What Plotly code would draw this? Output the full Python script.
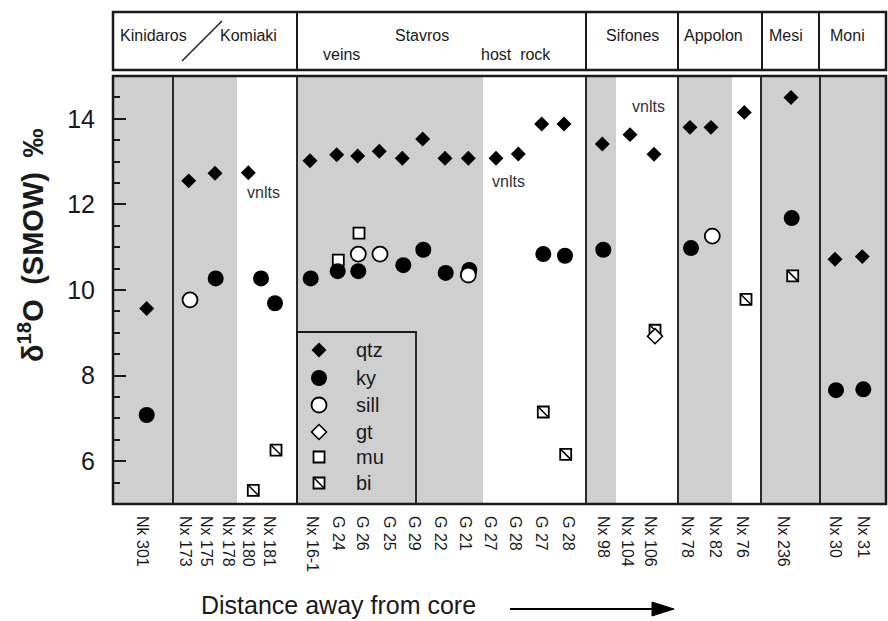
import plotly.graph_objects as go

# ---------------- data ----------------
# positions along the "distance away from core" axis (arbitrary units)
tick_pos = [28.7, 72, 93, 114.7, 135.3, 156.3, 198.7, 225.3, 248.7, 276.3, 301, 327,
            352, 377, 402, 427.7, 455.3, 490, 514, 537, 574, 602, 629, 670, 722, 750]
tick_text = ["Nk 301", "Nx 173", "Nx 175", "Nx 178", "Nx 180", "Nx 181", "Nx 16-1",
             "G 24", "G 26", "G 25", "G 29", "G 22", "G 21", "G 27", "G 28", "G 27",
             "G 28", "Nx 98", "Nx 104", "Nx 106", "Nx 78", "Nx 82", "Nx 76", "Nx 236",
             "Nx 30", "Nx 31"]

qtz_x = [33.7, 75.7, 102.0, 135.3, 197.0, 223.7, 244.7, 266.3, 289.3, 309.7, 332.0, 355.3,
         383.0, 405.3, 428.7, 451.0, 489.3, 517.0, 541.0, 577.0, 598.0, 631.3, 678.0, 722.0, 749.3]
qtz_y = [9.57, 12.55, 12.73, 12.74, 13.02, 13.16, 13.13, 13.24, 13.08, 13.53, 13.08, 13.08,
         13.08, 13.18, 13.88, 13.88, 13.41, 13.63, 13.17, 13.80, 13.80, 14.15, 14.50, 10.72, 10.78]

ky_x = [33.7, 102.7, 148.0, 162.0, 197.7, 224.7, 245.3, 290.3, 310.3, 332.7, 356.3, 430.3,
        452.0, 490.3, 578.0, 678.7, 723.0, 750.3]
ky_y = [7.08, 10.27, 10.27, 9.69, 10.27, 10.44, 10.44, 10.58, 10.94, 10.40, 10.47, 10.84,
        10.80, 10.94, 10.98, 11.68, 7.66, 7.68]

sill_x = [77.0, 245.3, 267.0, 355.3, 599.3]
sill_y = [9.77, 10.84, 10.84, 10.35, 11.26]

gt_x = [542.0]
gt_y = [8.92]

mu_x = [225.3, 246.0]
mu_y = [10.70, 11.33]

bi_x = [140.3, 163.0, 430.3, 452.7, 542.0, 633.0, 679.7]
bi_y = [5.32, 6.26, 7.15, 6.16, 9.06, 9.78, 10.33]

# panel boundaries and un-shaded (white) bands along the axis
panel_lines = [60, 184, 473, 565, 648, 707]
header_lines = [184, 473, 565, 649, 706]
white_bands = [(124, 184), (370, 473), (503, 565), (619, 648)]

header_row1 = [("Kinidaros", 40.5), ("Komiaki", 135.5), ("Stavros", 308.5), ("Sifones", 519),
               ("Appolon", 600.5), ("Mesi", 672.5), ("Moni", 734.5)]
header_row2 = [("veins", 228), ("host  rock", 403)]
vnlts_labels = [(150, 12.27), (395, 12.53), (535, 14.28)]

legend_names = ["qtz", "ky", "sill", "gt", "mu", "bi"]

# ---------------- layout constants ----------------
W, H = 888, 621
L, R, T, B = 113, 886, 76, 504
X_RANGE = [0, R - L]
GREY = "#cfcfcf"
FONT = "Liberation Sans, Arial, Helvetica, sans-serif"
INK = "#1a1a1a"


def pxx(p):
    return (p - L) / (R - L)


def pxy(p):
    return (B - p) / (B - T)


fig = go.Figure()

diamond = dict(symbol="diamond", size=11.5, color="black", line=dict(width=0))
dot = dict(symbol="circle", size=16, color="black", line=dict(width=0))
ring = dict(symbol="circle", size=15, color="white", line=dict(width=1.8, color="black"))
open_diamond = dict(symbol="diamond", size=11.5, color="white", line=dict(width=1.6, color="black"))
box = dict(symbol="square", size=11, color="white", line=dict(width=1.8, color="black"))
slash = dict(symbol="line-nw", size=11, color="black", line=dict(width=1.5, color="black"))

fig.add_trace(go.Scatter(x=mu_x, y=mu_y, mode="markers", marker=box, name="mu"))
fig.add_trace(go.Scatter(x=bi_x, y=bi_y, mode="markers", marker=box, name="bi"))
fig.add_trace(go.Scatter(x=bi_x, y=bi_y, mode="markers", marker=slash, name="bi "))
fig.add_trace(go.Scatter(x=ky_x, y=ky_y, mode="markers", marker=dot, name="ky"))
fig.add_trace(go.Scatter(x=sill_x, y=sill_y, mode="markers", marker=ring, name="sill"))
fig.add_trace(go.Scatter(x=gt_x, y=gt_y, mode="markers", marker=open_diamond, name="gt"))
fig.add_trace(go.Scatter(x=qtz_x, y=qtz_y, mode="markers", marker=diamond, name="qtz"))

annotations = []

# ---------------- hand-made legend box (own small axes) ----------------
leg_x0, leg_x1, leg_top = 297, 416, 332
leg_rows = [350, 378, 405, 432, 457, 483]
leg_sym = [diamond, dot, ring, open_diamond, box, box]
leg_ys = [(B - r) / (B - leg_top) for r in leg_rows]
for name, sym, yy in zip(legend_names, leg_sym, leg_ys):
    fig.add_trace(go.Scatter(x=[0.185], y=[yy], mode="markers", marker=sym,
                             xaxis="x2", yaxis="y2", hoverinfo="skip"))
    annotations.append(dict(x=0.48, y=yy, xref="x2", yref="y2", text=name, showarrow=False,
                            xanchor="left", yanchor="middle",
                            font=dict(family=FONT, size=20, color=INK)))
fig.add_trace(go.Scatter(x=[0.185], y=[leg_ys[-1]], mode="markers", marker=slash,
                         xaxis="x2", yaxis="y2", hoverinfo="skip"))

shapes = []
# white bands
for a, b in white_bands:
    shapes.append(dict(type="rect", xref="x", yref="paper", x0=a, x1=b, y0=0, y1=1,
                       fillcolor="white", line=dict(width=0), layer="below"))
# panel dividers
for xv in panel_lines:
    shapes.append(dict(type="line", xref="x", yref="paper", x0=xv, x1=xv, y0=0, y1=1,
                       line=dict(color="#2a2a2a", width=2), layer="above"))
# plot frame
shapes.append(dict(type="rect", xref="paper", yref="paper", x0=0, x1=1, y0=0, y1=1,
                   line=dict(color="#1a1a1a", width=2.5), layer="above"))
# legend frame
shapes.append(dict(type="rect", xref="paper", yref="paper", x0=pxx(leg_x0), x1=pxx(leg_x1),
                   y0=0, y1=pxy(leg_top), line=dict(color="#1a1a1a", width=1.8), layer="above"))
# header box
hy0, hy1 = pxy(70), pxy(12)
shapes.append(dict(type="rect", xref="paper", yref="paper", x0=0, x1=1, y0=hy0, y1=hy1,
                   line=dict(color="#1a1a1a", width=2.5)))
for xv in header_lines:
    shapes.append(dict(type="line", xref="x", yref="paper", x0=xv, x1=xv, y0=hy0, y1=hy1,
                       line=dict(color="#1a1a1a", width=2)))
# Kinidaros / Komiaki slash
shapes.append(dict(type="line", xref="paper", yref="paper", x0=pxx(182), y0=pxy(61),
                   x1=pxx(222), y1=pxy(21), line=dict(color="#1a1a1a", width=1.5)))
# arrow after x title
shapes.append(dict(type="line", xref="paper", yref="paper", x0=pxx(510), y0=pxy(609),
                   x1=pxx(656), y1=pxy(609), line=dict(color="black", width=2)))
shapes.append(dict(type="path", xref="paper", yref="paper",
                   path=f"M {pxx(652)} {pxy(602)} L {pxx(674)} {pxy(609)} L {pxx(652)} {pxy(616)} Z",
                   fillcolor="black", line=dict(color="black", width=1)))

for txt, xv in header_row1:
    annotations.append(dict(x=xv, y=pxy(35), xref="x", yref="paper", text=txt, showarrow=False,
                            xanchor="center", yanchor="middle",
                            font=dict(family=FONT, size=16, color=INK)))
for txt, xv in header_row2:
    annotations.append(dict(x=xv, y=pxy(54), xref="x", yref="paper", text=txt, showarrow=False,
                            xanchor="center", yanchor="middle",
                            font=dict(family=FONT, size=16, color=INK)))
for xv, yv in vnlts_labels:
    annotations.append(dict(x=xv, y=yv, xref="x", yref="y", text="vnlts", showarrow=False,
                            xanchor="center", yanchor="middle",
                            font=dict(family=FONT, size=16, color="#333333")))
annotations.append(dict(x=pxx(31), y=pxy(246), xref="paper", yref="paper",
                        text="<b>δ<sup>18</sup>O\u2002(SMOW)\u2002‰</b>", textangle=-90,
                        showarrow=False, xanchor="center", yanchor="middle",
                        font=dict(family=FONT, size=29, color=INK)))
annotations.append(dict(x=pxx(338), y=pxy(605), xref="paper", yref="paper",
                        text="Distance away from core", showarrow=False,
                        xanchor="center", yanchor="middle",
                        font=dict(family=FONT, size=25, color=INK)))

fig.update_layout(
    width=W, height=H,
    margin=dict(l=L, r=W - R, t=T, b=H - B, pad=0),
    paper_bgcolor="white", plot_bgcolor=GREY,
    showlegend=False,
    shapes=shapes, annotations=annotations,
    xaxis=dict(range=X_RANGE, tickmode="array", tickvals=tick_pos, ticktext=tick_text,
               tickangle=90, ticks="", showgrid=False, zeroline=False, showline=False,
               tickfont=dict(family=FONT, size=16, color=INK), ticklabelstandoff=11,
               fixedrange=True),
    yaxis=dict(range=[5, 15], tickmode="array", tickvals=[6, 8, 10, 12, 14],
               ticks="inside", ticklen=13, tickwidth=2, tickcolor="#1a1a1a",
               minor=dict(tickmode="array", tickvals=[5.5, 6.5, 7, 7.5, 8.5, 9, 9.5, 10.5, 11,
                                                       11.5, 12.5, 13, 13.5, 14.5],
                          ticks="inside", ticklen=7, tickwidth=2, tickcolor="#1a1a1a"),
               showgrid=False, zeroline=False, showline=False,
               tickfont=dict(family=FONT, size=25, color=INK), ticklabelstandoff=17,
               fixedrange=True),
    xaxis2=dict(domain=[pxx(leg_x0), pxx(leg_x1)], anchor="y2", range=[0, 1], visible=False),
    yaxis2=dict(domain=[0, pxy(leg_top)], anchor="x2", range=[0, 1], visible=False),
)

fig.write_html("out.html")
